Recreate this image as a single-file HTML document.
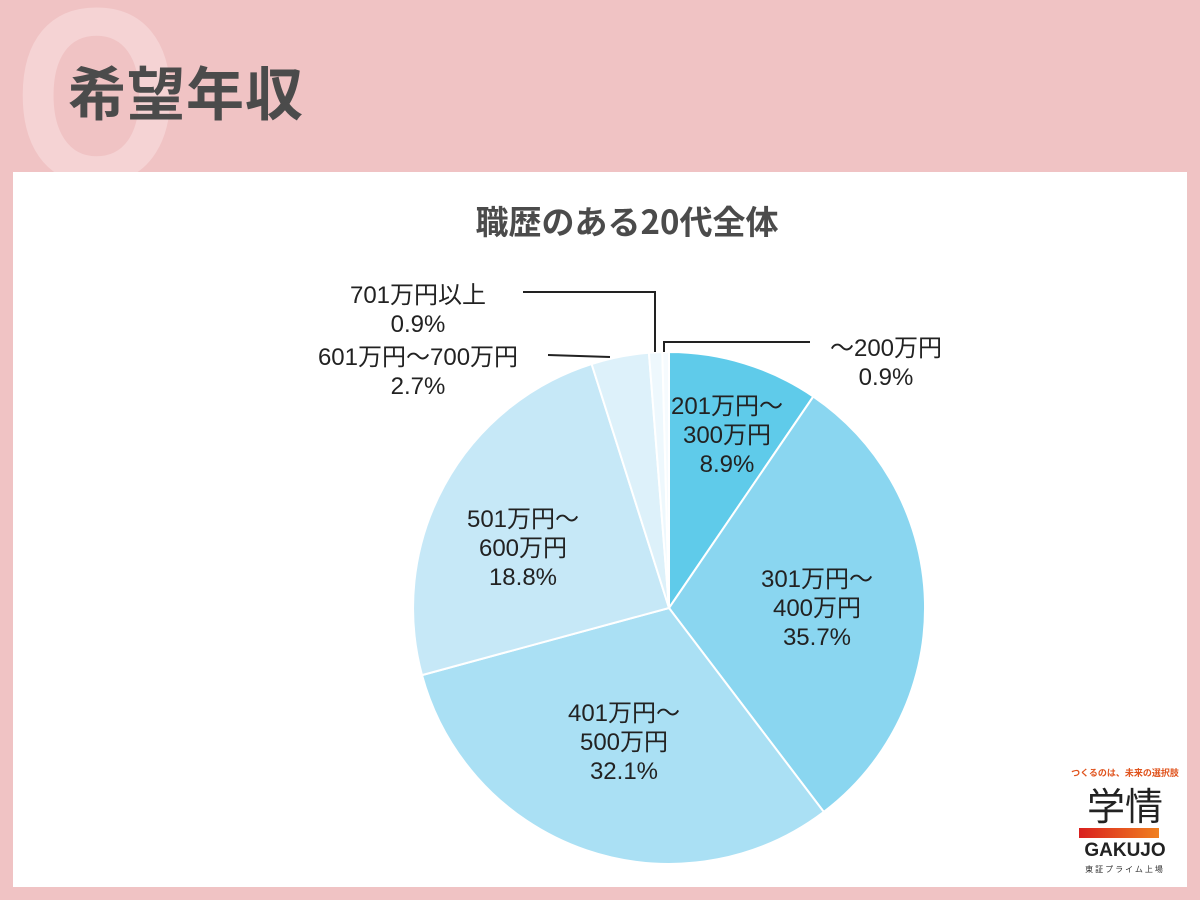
<!DOCTYPE html>
<html><head><meta charset="utf-8"><style>
html,body{margin:0;padding:0}
body{width:1200px;height:900px;background:#f0c3c4;position:relative;overflow:hidden;font-family:"Liberation Sans","Noto Sans CJK JP",sans-serif}
.panel{position:absolute;left:13px;top:172px;width:1174px;height:715px;background:#fff}
.h{position:absolute;left:68px;top:50px;font-size:58px;font-weight:bold;color:#4b4b4b;letter-spacing:1px;font-family:"Noto Sans CJK JP",sans-serif;line-height:80px}
.q{position:absolute;left:14px;top:-48px;font-size:250px;font-weight:bold;color:#f5d3d4;font-family:"Liberation Sans",sans-serif;transform:scaleX(0.85);transform-origin:left top}
.t{position:absolute;left:0;width:1254px;top:196px;text-align:center;font-size:33px;font-weight:bold;color:#4b4b4b;font-family:"Noto Sans CJK JP",sans-serif}
.l{position:absolute;text-align:center;font-size:24px;line-height:29px;color:#222;white-space:nowrap;transform:translateX(-50%)}
</style></head><body>
<div class="q">Q</div>
<div class="h">希望年収</div>
<div class="panel"></div>
<div class="t">職歴のある20代全体</div>
<svg width="1200" height="900" style="position:absolute;left:0;top:0" id="s"></svg>
<div class="l" style="left:727px;top:392px">201万円～<br>300万円<br>8.9%</div>
<div class="l" style="left:817px;top:565px">301万円～<br>400万円<br>35.7%</div>
<div class="l" style="left:624px;top:699px">401万円～<br>500万円<br>32.1%</div>
<div class="l" style="left:523px;top:505px">501万円～<br>600万円<br>18.8%</div>
<div class="l" style="left:418px;top:343px">601万円～700万円<br>2.7%</div>
<div class="l" style="left:418px;top:281px">701万円以上<br>0.9%</div>
<div class="l" style="left:886px;top:334px">～200万円<br>0.9%</div>
<div style="position:absolute;left:1060px;top:766px;width:130px;text-align:center;font-size:9px;white-space:nowrap;font-weight:bold;color:#e0541e;font-family:'Noto Sans CJK JP',sans-serif">つくるのは、未来の選択肢</div>
<div style="position:absolute;left:1070px;top:782px;width:110px;text-align:center;font-size:38px;line-height:44px;color:#222;font-family:'Noto Sans CJK JP',sans-serif">学情</div>
<div style="position:absolute;left:1079px;top:828px;width:80px;height:10px;background:linear-gradient(90deg,#d9201f,#f08020)"></div>
<div style="position:absolute;left:1070px;top:840px;width:110px;text-align:center;font-size:19px;font-weight:bold;color:#222">GAKUJO</div>
<div style="position:absolute;left:1070px;top:864px;width:110px;text-align:center;font-size:8px;letter-spacing:2px;color:#333;font-family:'Noto Sans CJK JP',sans-serif">東証プライム上場</div>
<script>
var cx=669,cy=608,r=256;
var b=[0,34.3,142.8,254.8,342.4,355.5,358.5,360];
var c=["#5fcbea","#8ad6f0","#aae0f4","#c6e8f7","#ddf1fa","#eef8fd","#f6fbfe"];
function p(a){a=a*Math.PI/180;return (cx+r*Math.sin(a)).toFixed(1)+","+(cy-r*Math.cos(a)).toFixed(1)}
var h="";
for(var i=0;i<7;i++){h+='<path d="M'+cx+','+cy+' L'+p(b[i])+' A'+r+','+r+' 0 '+((b[i+1]-b[i])>180?1:0)+' 1 '+p(b[i+1])+' Z" fill="'+c[i]+'" stroke="#fff" stroke-width="2"/>';}
h+='<polyline points="523,292 655,292 655,352" fill="none" stroke="#222" stroke-width="2"/>';
h+='<polyline points="810,342 664,342 664,352" fill="none" stroke="#222" stroke-width="2"/>';
h+='<line x1="548" y1="355" x2="610" y2="357" stroke="#222" stroke-width="2"/>';
document.getElementById("s").innerHTML=h;
</script>
</body></html>
